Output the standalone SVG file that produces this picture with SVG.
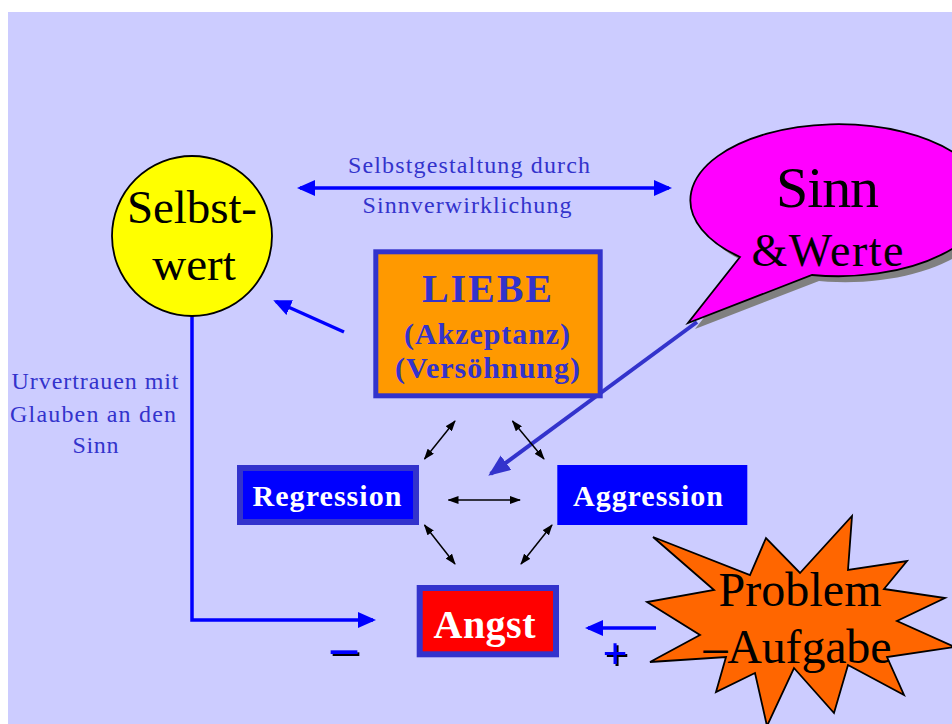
<svg xmlns="http://www.w3.org/2000/svg" width="952" height="724" viewBox="0 0 952 724">
<defs>
<style>
text{font-family:"Liberation Serif","Times New Roman",serif;text-anchor:middle}
.lbl{font-size:24px;fill:#3333CC}
.b{font-weight:bold}
.blk{fill:#000}
.wht{fill:#fff;font-weight:bold}
.conn{fill:none;stroke:#0000FF;stroke-width:3.5}
.thin{fill:none;stroke:#000;stroke-width:1.5}
</style>
<marker id="bh" viewBox="0 0 18 16" refX="15" refY="8" markerWidth="18" markerHeight="16" markerUnits="userSpaceOnUse" orient="auto-start-reverse"><path d="M0,0 L18,8 L0,16 z" fill="#0000FF"/></marker>
<marker id="ph" viewBox="0 0 22 18" refX="19" refY="9" markerWidth="22" markerHeight="18" markerUnits="userSpaceOnUse" orient="auto"><path d="M0,0 L22,9 L0,18 z" fill="#3333CC"/></marker>
<marker id="kh" viewBox="0 0 11 8" refX="10" refY="4" markerWidth="11" markerHeight="8" markerUnits="userSpaceOnUse" orient="auto-start-reverse"><path d="M0,0 L11,4 L0,8 z" fill="#000"/></marker>
<filter id="sh" x="-30%" y="-30%" width="180%" height="180%"><feDropShadow dx="2" dy="2" stdDeviation="0" flood-color="#000"/></filter>
</defs>
<rect x="8" y="12" width="944" height="712" fill="#CCCCFF"/>

<g id="connectors">
<line class="conn" x1="300" y1="188" x2="669" y2="188" marker-start="url(#bh)" marker-end="url(#bh)"/>
<path class="conn" d="M192,316 V620 H373" marker-end="url(#bh)"/>
<line class="conn" stroke-width="4" x1="344" y1="332" x2="276" y2="301.5" marker-end="url(#bh)"/>
<line fill="none" stroke="#3333CC" stroke-width="4" x1="697" y1="322" x2="490.7" y2="473.9" marker-end="url(#ph)"/>
<line class="conn" x1="656" y1="628" x2="588" y2="628" marker-end="url(#bh)"/>
<line class="thin" x1="455" y1="421" x2="424.5" y2="459" marker-start="url(#kh)" marker-end="url(#kh)"/>
<line class="thin" x1="512.5" y1="421" x2="544" y2="459" marker-start="url(#kh)" marker-end="url(#kh)"/>
<line class="thin" x1="448.5" y1="500" x2="520" y2="500" marker-start="url(#kh)" marker-end="url(#kh)"/>
<line class="thin" x1="424.5" y1="525" x2="455" y2="564" marker-start="url(#kh)" marker-end="url(#kh)"/>
<line class="thin" x1="552" y1="525" x2="521" y2="564" marker-start="url(#kh)" marker-end="url(#kh)"/>
</g>

<g id="label-top">
<text class="lbl" x="469" y="173" textLength="242" lengthAdjust="spacing">Selbstgestaltung durch</text>
<text class="lbl" x="467" y="213" textLength="209" lengthAdjust="spacing">Sinnverwirklichung</text>
</g>
<g id="label-left">
<text class="lbl" font-size="23" x="95" y="389" textLength="167" lengthAdjust="spacing">Urvertrauen mit</text>
<text class="lbl" font-size="23" x="93" y="422" textLength="166" lengthAdjust="spacing">Glauben an den</text>
<text class="lbl" font-size="23" x="95.5" y="453" textLength="46" lengthAdjust="spacing">Sinn</text>
</g>

<g id="selbstwert">
<circle cx="192" cy="236" r="80" fill="#FFFF00" stroke="#000" stroke-width="1.8"/>
<text class="blk" font-size="47" x="192" y="223" textLength="130" lengthAdjust="spacing">Selbst-</text>
<text class="blk" font-size="47" x="194" y="280">wert</text>
</g>

<g id="sinn">
<path d="M747,263 L695,329 L819,281 A148 76 0 1 0 747,263 Z" fill="#808080"/>
<path d="M740,257 L688,323 L812,275 A148 76 0 1 0 740,257 Z" fill="#FF00FF" stroke="#000" stroke-width="1.8"/>
<text class="blk" font-size="58" x="827.5" y="207" textLength="103" lengthAdjust="spacing">Sinn</text>
<text class="blk" font-size="46" x="827.5" y="266" textLength="152" lengthAdjust="spacing">&amp;Werte</text>
</g>

<g id="liebe">
<rect x="375.8" y="251.8" width="224.4" height="144" fill="#FF9900" stroke="#3333CC" stroke-width="5"/>
<text class="b" fill="#3333CC" font-size="40" x="487" y="302" textLength="130" lengthAdjust="spacing">LIEBE</text>
<text class="b" fill="#3333CC" font-size="30" x="487" y="344" textLength="166" lengthAdjust="spacing">(Akzeptanz)</text>
<text class="b" fill="#3333CC" font-size="30" x="487.5" y="378" textLength="185" lengthAdjust="spacing">(Versöhnung)</text>
</g>

<g id="regression">
<rect x="240" y="468" width="176" height="54" fill="#0000FF" stroke="#3333CC" stroke-width="6"/>
<text class="wht" font-size="30" x="327" y="506" textLength="149" lengthAdjust="spacing">Regression</text>
</g>

<g id="aggression">
<rect x="557.3" y="465" width="190" height="60" fill="#0000FF"/>
<text class="wht" font-size="30" x="648" y="506" textLength="150" lengthAdjust="spacing">Aggression</text>
</g>

<g id="angst">
<rect x="419.7" y="588" width="136.3" height="66.3" fill="#FF0000" stroke="#3333CC" stroke-width="6"/>
<text class="wht" font-size="40" x="484.5" y="638" textLength="102" lengthAdjust="spacing">Angst</text>
</g>

<g id="signs">
<text class="b" fill="#0000FF" font-size="52" x="344" y="665" filter="url(#sh)">–</text>
<text class="b" fill="#0000FF" font-size="44" x="615" y="668" filter="url(#sh)">+</text>
</g>

<g id="problem">
<polygon points="653,537 750,575 766,538 800,573 852,516 848,570 907,561 884,589 945,598 897,621 955,647 887,657 904,695 848,665 834,713 794,668 767,726 755,673 716,692 726,657 650,662 700,635 647,602 714,590" fill="#FF6600" stroke="#000" stroke-width="1.8" stroke-linejoin="miter"/>
<text class="blk" font-size="48" x="800" y="606" textLength="163" lengthAdjust="spacing">Problem</text>
<text class="blk" font-size="48" x="797.5" y="663" textLength="188" lengthAdjust="spacing">–Aufgabe</text>
</g>
</svg>
